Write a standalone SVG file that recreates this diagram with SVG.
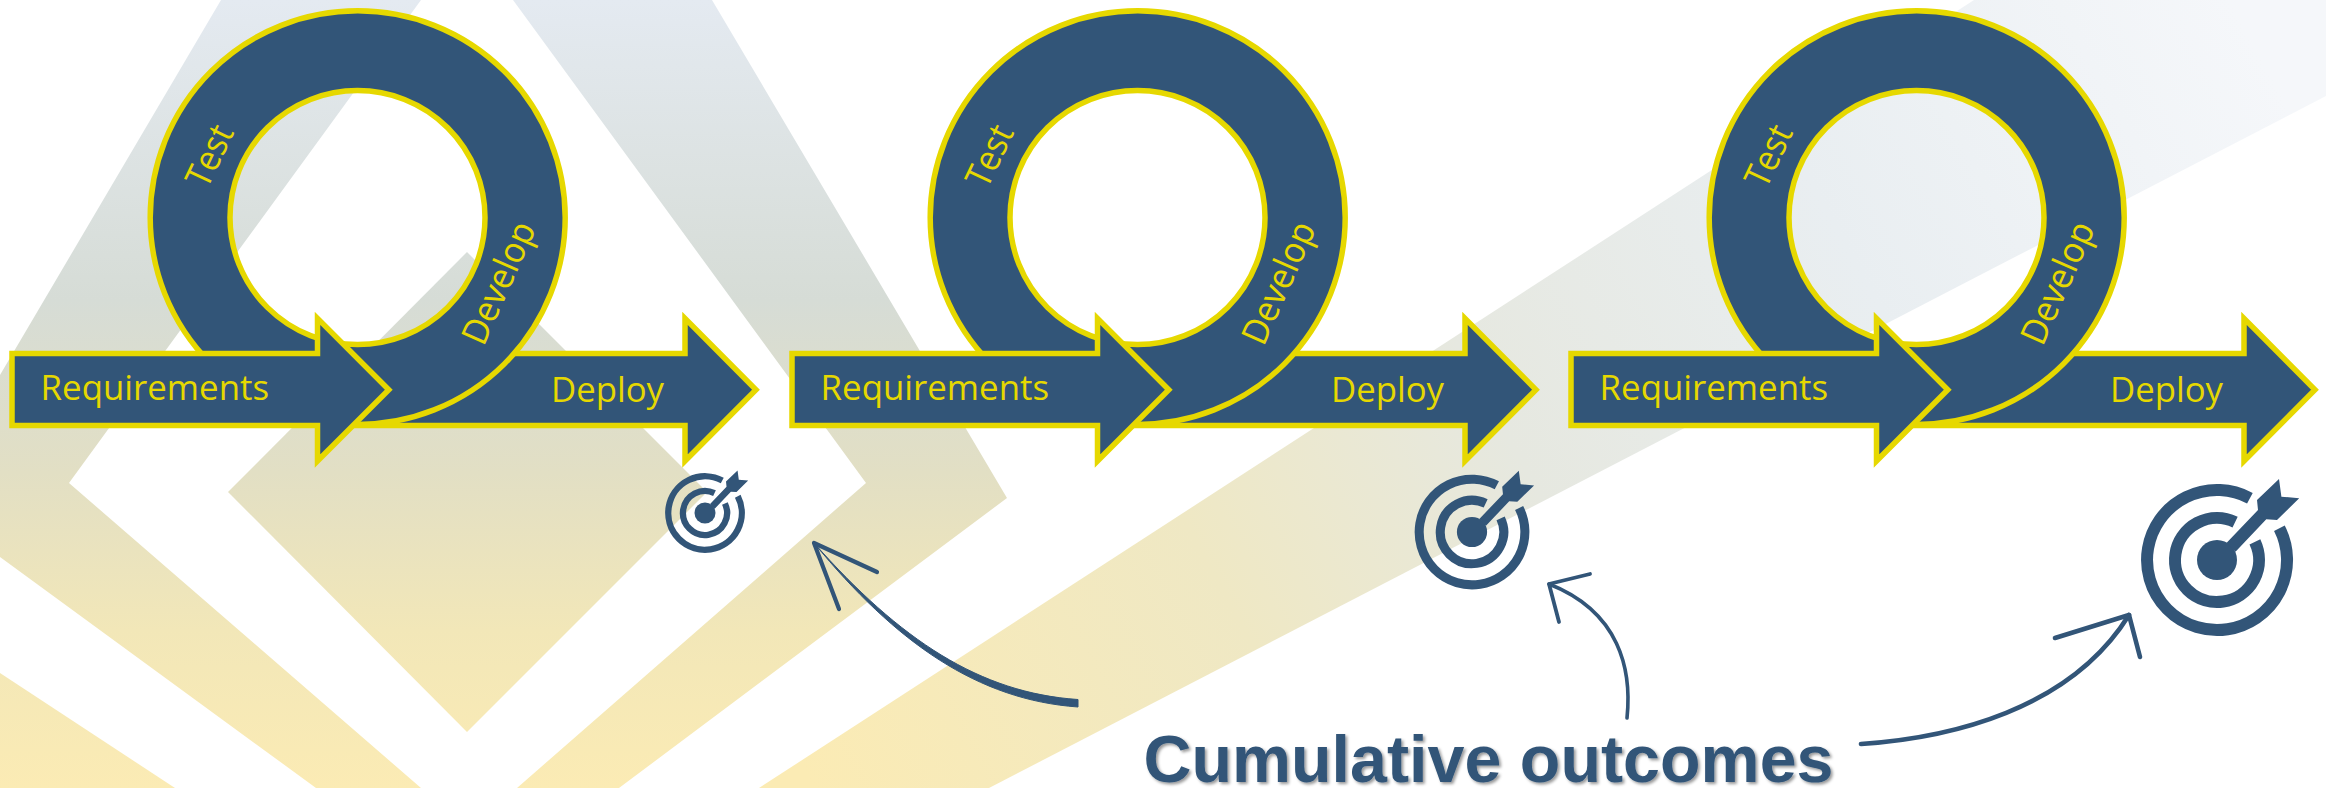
<svg xmlns="http://www.w3.org/2000/svg" xmlns:xlink="http://www.w3.org/1999/xlink" width="2326" height="788" viewBox="0 0 2326 788">
<style>
.shape{fill:#325578;stroke:#e6d800;stroke-width:5.5;stroke-miterlimit:10}
.ring{fill-rule:evenodd}
.lbl{font-family:"Open Sans","Noto Sans",sans-serif;font-size:35px;fill:#e6d800}
.rot{font-size:36px}
.band{fill:url(#bg)}
.tline{fill:none;stroke:#325578;stroke-width:12}
.tfill{fill:#325578}
.conn{fill:none;stroke:#325578;stroke-linecap:round;stroke-linejoin:round}
.title{font-family:"Liberation Sans",Arial,sans-serif;font-weight:bold;font-size:66.5px;fill:#325578;filter:url(#sh)}
</style>
<defs>
<linearGradient id="bg" gradientUnits="userSpaceOnUse" x1="0" y1="0" x2="0" y2="788">
<stop offset="0" stop-color="#e4eaf1"/><stop offset="0.38" stop-color="#d6dcd6"/><stop offset="0.6" stop-color="#e2dfc4"/><stop offset="0.8" stop-color="#f2e7b8"/><stop offset="1" stop-color="#fbebb4"/>
</linearGradient>
<linearGradient id="bg2" gradientUnits="userSpaceOnUse" x1="820" y1="800" x2="2240" y2="20">
<stop offset="0" stop-color="#fbebb4"/><stop offset="0.28" stop-color="#efe8c4"/><stop offset="0.48" stop-color="#e6e8e0"/><stop offset="0.72" stop-color="#e9eef1"/><stop offset="1" stop-color="#f5f7fa"/>
</linearGradient>
<filter id="sh" x="-2%" y="-10%" width="104%" height="125%"><feDropShadow dx="2" dy="2" stdDeviation="1.5" flood-color="#000" flood-opacity="0.4"/></filter>
<g id="target">
<path class="tline" d="M62.4 -31.8A70 70 0 1 1 32.9 -61.8"/>
<path class="tline" d="M37.9 -18.1A42 42 0 1 1 18.1 -37.9"/>
<circle class="tfill" r="20"/>
<path class="tfill" d="M9.7 -17.3L41 -50L40 -60L62 -81L64.4 -63.3L82.2 -61.7L60 -40L49.3 -40.7L18.5 -8.3Z"/>
</g>
<g id="deployShape"><path class="shape" d="M352 353.5H685V318.3L756 389.7L685 461V425.5H352Z"/></g>
<g id="ringShape"><path class="shape ring" d="M150.2 217.6A207.5 206.8 0 1 1 565.2 217.6A207.5 206.8 0 1 1 150.2 217.6ZM230 217.6A127.5 127 0 1 0 485 217.6A127.5 127 0 1 0 230 217.6Z"/></g>
<g id="reqShape"><path class="shape" d="M12 353.5H317.5V318.3L388.8 389.7L317.5 461V425.5H12Z"/></g>
</defs>
<g id="background">
<path class="band" d="M221 0H421L69 483L421 788H316L0 557V375Z"/>
<path class="band" d="M513 0H712L1007 498L619 788H517L866 483Z"/>
<path class="band" d="M467 252L707 492L467 732L228 492Z"/>
<path class="band" d="M0 673L175 788H0Z"/>
<path d="M759 788L1974 0H2326V96L989 788Z" fill="url(#bg2)"/>
</g>
<g id="cycle-1">
<use xlink:href="#deployShape" href="#deployShape"/><use xlink:href="#ringShape" href="#ringShape"/>
<text class="lbl rot" transform="translate(207 190) rotate(-64.5)" textLength="64" lengthAdjust="spacingAndGlyphs">Test</text>
<text class="lbl rot" transform="translate(483.5 347.3) rotate(-66)" textLength="130" lengthAdjust="spacingAndGlyphs">Develop</text>
<use xlink:href="#reqShape" href="#reqShape"/>
<text class="lbl" x="40.6" y="400" textLength="228.4" lengthAdjust="spacingAndGlyphs">Requirements</text>
<text class="lbl" x="551" y="402" textLength="113" lengthAdjust="spacingAndGlyphs">Deploy</text>
</g>
<g id="cycle-2" transform="translate(780 0)">
<use xlink:href="#deployShape" href="#deployShape"/><use xlink:href="#ringShape" href="#ringShape"/>
<text class="lbl rot" transform="translate(207 190) rotate(-64.5)" textLength="64" lengthAdjust="spacingAndGlyphs">Test</text>
<text class="lbl rot" transform="translate(483.5 347.3) rotate(-66)" textLength="130" lengthAdjust="spacingAndGlyphs">Develop</text>
<use xlink:href="#reqShape" href="#reqShape"/>
<text class="lbl" x="40.6" y="400" textLength="228.4" lengthAdjust="spacingAndGlyphs">Requirements</text>
<text class="lbl" x="551" y="402" textLength="113" lengthAdjust="spacingAndGlyphs">Deploy</text>
</g>
<g id="cycle-3" transform="translate(1559 0)">
<use xlink:href="#deployShape" href="#deployShape"/><use xlink:href="#ringShape" href="#ringShape"/>
<text class="lbl rot" transform="translate(207 190) rotate(-64.5)" textLength="64" lengthAdjust="spacingAndGlyphs">Test</text>
<text class="lbl rot" transform="translate(483.5 347.3) rotate(-66)" textLength="130" lengthAdjust="spacingAndGlyphs">Develop</text>
<use xlink:href="#reqShape" href="#reqShape"/>
<text class="lbl" x="40.6" y="400" textLength="228.4" lengthAdjust="spacingAndGlyphs">Requirements</text>
<text class="lbl" x="551" y="402" textLength="113" lengthAdjust="spacingAndGlyphs">Deploy</text>
</g>
<g id="target-1"><use xlink:href="#target" href="#target" transform="translate(705 513) scale(.525)"/></g>
<g id="target-2"><use xlink:href="#target" href="#target" transform="translate(1472 532) scale(.755)"/></g>
<g id="target-3"><use xlink:href="#target" href="#target" transform="translate(2217 560)"/></g>
<g id="connectors">
<path d="M1078 699.5C980 693 900 640 814 543C896 643 978 700 1078 707Z" fill="#325578" stroke="#325578" stroke-width="1"/>
<path class="conn" stroke-width="4.2" d="M877 572L814 543L839 609"/>
<path class="conn" stroke-width="3.6" d="M1627 718C1632 670 1620 612 1549 584"/>
<path class="conn" stroke-width="3.8" d="M1590 574L1549 584L1559 622"/>
<path class="conn" stroke-width="4.6" d="M1861 744C1950 738 2070 710 2129 615"/>
<path class="conn" stroke-width="4.6" d="M2055 638L2129 615L2140 657"/>
</g>
<g id="title"><text class="title" x="1143.5" y="782" textLength="690" lengthAdjust="spacingAndGlyphs">Cumulative outcomes</text></g>
</svg>
